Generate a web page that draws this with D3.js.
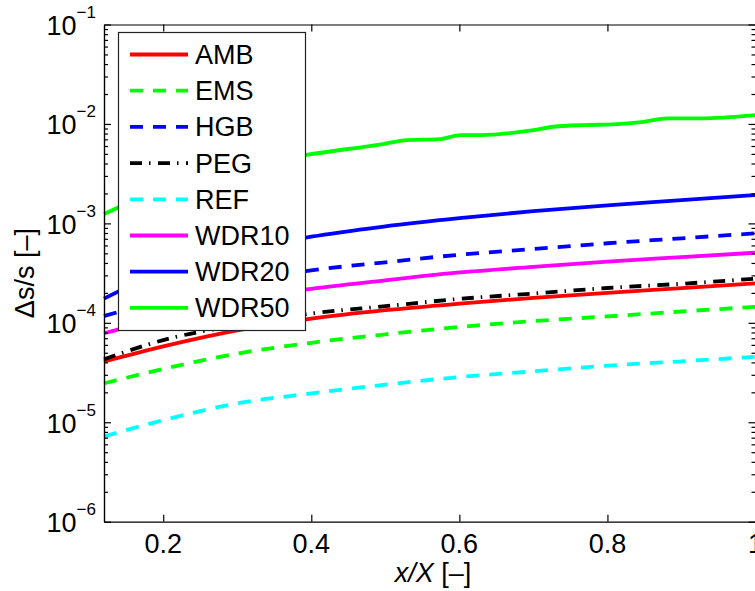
<!DOCTYPE html>
<html lang='en'>
  <head>
    <style type='text/css'>
      body {margin: 0; background-color: #fff;}
      svg text {font-family: "Liberation Sans", Arial, sans-serif; fill: #000;}
    </style>
  </head>
  <body>
    <svg id='chart' width='755' height='591'></svg>

    <script src='https://d3js.org/d3.v7.min.js'></script>
    <script type='text/javascript'>
        // x positions shared by the smooth series
        var xGrid = [0.12, 0.2, 0.3, 0.4, 0.5, 0.6, 0.7, 0.8, 0.9, 1.0];

        var amb   = [4.08e-5, 5.8e-5, 8.4e-5, 1.10e-4, 1.34e-4, 1.56e-4, 1.78e-4, 2.0e-4, 2.23e-4, 2.49e-4];
        var ems   = [2.46e-5, 3.44e-5, 4.9e-5, 6.3e-5, 7.66e-5, 9.08e-5, 1.04e-4, 1.16e-4, 1.30e-4, 1.45e-4];
        var hgb   = [1.17e-4, 1.70e-4, 2.55e-4, 3.37e-4, 4.06e-4, 4.84e-4, 5.53e-4, 6.31e-4, 7.08e-4, 7.94e-4];
        var peg   = [4.3e-5, 6.7e-5, 9.5e-5, 1.24e-4, 1.47e-4, 1.74e-4, 1.97e-4, 2.24e-4, 2.47e-4, 2.78e-4];
        var ref   = [7.2e-6, 1.05e-5, 1.55e-5, 1.95e-5, 2.39e-5, 2.85e-5, 3.25e-5, 3.71e-5, 4.1e-5, 4.56e-5];
        var wdr10 = [7.85e-5, 1.13e-4, 1.70e-4, 2.20e-4, 2.67e-4, 3.21e-4, 3.65e-4, 4.13e-4, 4.58e-4, 5.07e-4];
        var wdr20 = [1.75e-4, 3.28e-4, 5.2e-4, 7.35e-4, 9.34e-4, 1.13e-3, 1.33e-3, 1.52e-3, 1.71e-3, 1.93e-3];

        // WDR50 has small steps, so it gets its own x positions
        var xWdr50 = [0.12, 0.2, 0.3, 0.393, 0.497, 0.529, 0.574, 0.601, 0.628, 0.700, 0.727, 0.768, 0.808, 0.849, 0.881, 0.926, 1.0];
        var wdr50  = [1.24e-3, 2.25e-3, 3.6e-3, 4.88e-3, 6.28e-3, 6.89e-3, 7.05e-3, 7.73e-3, 7.73e-3, 8.67e-3, 9.37e-3, 9.75e-3, 9.9e-3, 1.05e-2, 1.14e-2, 1.14e-2, 1.23e-2];

        var names = ["AMB", "EMS", "HGB", "PEG", "REF", "WDR10", "WDR20", "WDR50"];

        var xTicks = [0.2, 0.4, 0.6, 0.8, 1];
        var yExps  = [-1, -2, -3, -4, -5, -6];

        var series = [
          {xs: xGrid,  ys: amb,   color: "#ff0000", dash: null},
          {xs: xGrid,  ys: ems,   color: "#00ff00", dash: "13,10"},
          {xs: xGrid,  ys: hgb,   color: "#0000ff", dash: "13,10"},
          {xs: xGrid,  ys: peg,   color: "#000000", dash: "12,7,1.5,7.5"},
          {xs: xGrid,  ys: ref,   color: "#00ffff", dash: "13,10"},
          {xs: xGrid,  ys: wdr10, color: "#ff00ff", dash: null},
          {xs: xGrid,  ys: wdr20, color: "#0000ff", dash: null},
          {xs: xWdr50, ys: wdr50, color: "#00ff00", dash: null}
        ];

        var svg = d3.select("#chart");
        var pLeft = 104, pRight = 755.5, pTop = 24.5, pBottom = 521.7;
        var fs = 27;

        var x = d3.scaleLinear().domain([0.12, 1]).range([pLeft, pRight]);
        var y = d3.scaleLog().domain([1e-6, 1e-1]).range([pBottom, pTop]);

        // minor log ticks 2..9 in each decade
        var minor = [];
        yExps.forEach(function(e) {
          if (e === -1) return;
          for (var k = 2; k <= 9; k++) minor.push(k * Math.pow(10, e));
        });
        var major = yExps.map(function(e) { return Math.pow(10, e); });

        // curves
        var line = d3.line().curve(d3.curveMonotoneX);
        var plot = svg.append("g");
        series.forEach(function(s) {
          var pts = s.xs.map(function(v, i) { return [x(v), y(s.ys[i])]; });
          plot.append("path")
              .attr("d", line(pts))
              .attr("fill", "none")
              .attr("stroke", s.color)
              .attr("stroke-width", 3.8)
              .attr("stroke-dasharray", s.dash);
        });

        // axes, ticks inside the box
        function styleAxis(g) {
          g.selectAll("path, line").attr("stroke", "#000").attr("stroke-width", 1.2);
          g.selectAll("text").remove();
        }
        svg.append("g").attr("transform", "translate(0," + pBottom + ")")
            .call(d3.axisBottom(x).tickValues(xTicks).tickSizeInner(-7).tickSizeOuter(0)).call(styleAxis);
        svg.append("g").attr("transform", "translate(0," + pTop + ")")
            .call(d3.axisTop(x).tickValues(xTicks).tickSizeInner(-7).tickSizeOuter(0)).call(styleAxis);
        svg.append("g").attr("transform", "translate(" + pLeft + ",0)")
            .call(d3.axisLeft(y).tickValues(major).tickSizeInner(-7).tickSizeOuter(0)).call(styleAxis);
        svg.append("g").attr("transform", "translate(" + pLeft + ",0)")
            .call(d3.axisLeft(y).tickValues(minor).tickSizeInner(-4).tickSizeOuter(0)).call(styleAxis);
        svg.append("g").attr("transform", "translate(" + pRight + ",0)")
            .call(d3.axisRight(y).tickValues(major).tickSizeInner(-7).tickSizeOuter(0)).call(styleAxis);
        svg.append("g").attr("transform", "translate(" + pRight + ",0)")
            .call(d3.axisRight(y).tickValues(minor).tickSizeInner(-4).tickSizeOuter(0)).call(styleAxis);

        // x tick labels
        svg.selectAll(".xlab").data(xTicks).enter().append("text")
            .attr("x", function(d) { return x(d); })
            .attr("y", 553)
            .attr("text-anchor", "middle")
            .attr("font-size", fs)
            .text(function(d) { return d === 1 ? "1" : d3.format(".1f")(d); });

        // y tick labels: 10 with superscript exponent
        yExps.forEach(function(e) {
          var t = svg.append("text")
              .attr("x", 96)
              .attr("y", y(Math.pow(10, e)) + 10.5)
              .attr("text-anchor", "end")
              .attr("font-size", fs);
          t.append("tspan").text("10");
          t.append("tspan").attr("font-size", 17).attr("dy", -17).text("\u2212" + (-e));
        });

        // axis titles
        var xt = svg.append("text")
            .attr("x", 433).attr("y", 582)
            .attr("text-anchor", "middle")
            .attr("font-size", fs);
        xt.append("tspan").attr("font-style", "italic").text("x/X");
        xt.append("tspan").text(" [\u2013]");

        svg.append("text")
            .attr("transform", "translate(34," + ((pTop + pBottom) / 2) + ") rotate(-90)")
            .attr("text-anchor", "middle")
            .attr("font-size", fs)
            .text("\u0394s/s [\u2013]");

        // legend
        var lg = svg.append("g");
        lg.append("rect")
            .attr("x", 118.5).attr("y", 32.5).attr("width", 187).attr("height", 298)
            .attr("fill", "#fff").attr("stroke", "#222").attr("stroke-width", 1.2);
        var rows = lg.selectAll(".row").data(series).enter().append("g")
            .attr("transform", function(d, i) { return "translate(0," + (54.5 + i * 36.2) + ")"; });
        rows.append("line")
            .attr("x1", 130).attr("x2", 188).attr("y1", 0).attr("y2", 0)
            .attr("stroke", function(d) { return d.color; })
            .attr("stroke-width", 3.8)
            .attr("stroke-dasharray", function(d) { return d.dash; });
        rows.append("text")
            .attr("x", 195).attr("y", 9.5)
            .attr("font-size", fs)
            .text(function(d, i) { return names[i]; });
    </script>
  </body>
</html>
